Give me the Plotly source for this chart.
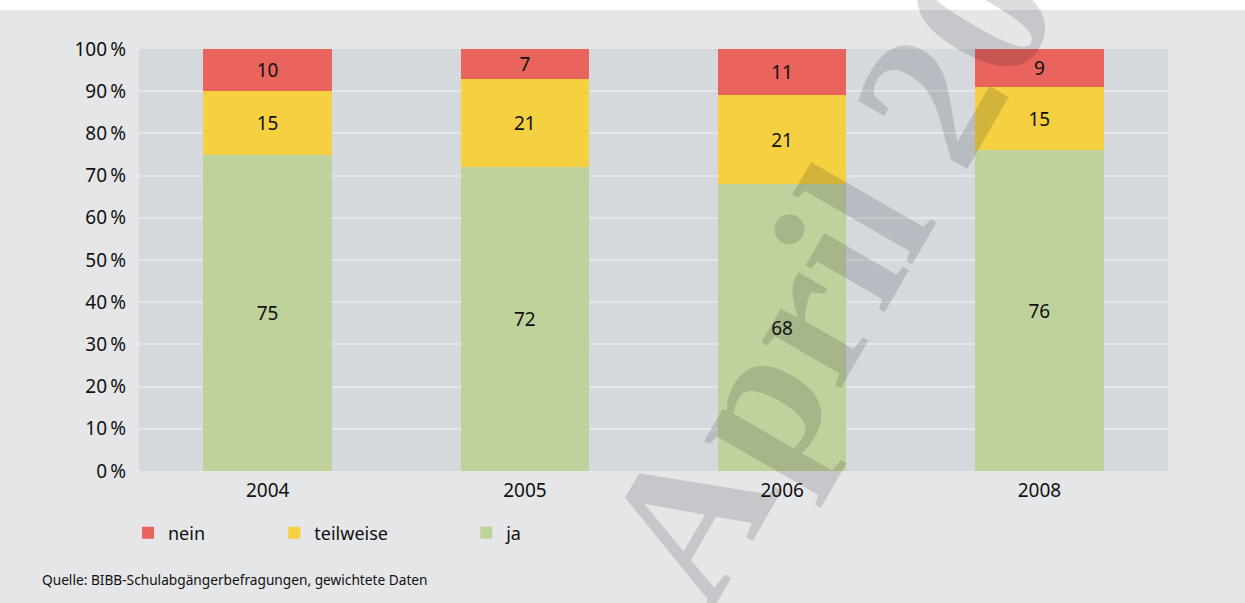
import plotly.graph_objects as go

# Daten
jahre = ['2004', '2005', '2006', '2008']
ja = [75, 72, 68, 76]
teilweise = [15, 21, 21, 15]
nein = [10, 7, 11, 9]

serien = [
    ('ja', ja, '#c0d29b', 'legend3'),
    ('teilweise', teilweise, '#f5d040', 'legend2'),
    ('nein', nein, '#e8645c', 'legend'),
]

schrift = 'Noto Sans, Open Sans, sans-serif'

fig = go.Figure()
for name, werte, farbe, leg in serien:
    fig.add_trace(go.Bar(
        x=jahre, y=werte, name=name,
        marker=dict(color=farbe, line_width=0),
        text=werte, textposition='inside', insidetextanchor='middle',
        textangle=0, constraintext='none',
        textfont=dict(family=schrift, size=19, color='#111111'),
        legend=leg, showlegend=True, hoverinfo='name+y',
    ))

leg_style = dict(orientation='h', yanchor='middle', y=-0.147, xanchor='left',
                 bgcolor='rgba(0,0,0,0)', font=dict(family=schrift, size=18, color='#111111'))

fig.update_layout(
    width=1245, height=603,
    barmode='stack', bargap=0.5, showlegend=True,
    paper_bgcolor='#e5e6e8', plot_bgcolor='#d5d8dc',
    margin=dict(l=139, r=77, t=49, b=132),
    font=dict(family=schrift, size=19, color='#111111'),
    legend=dict(leg_style, x=-0.0107),
    legend2=dict(leg_style, x=0.1315),
    legend3=dict(leg_style, x=0.318),
    xaxis=dict(showgrid=False, showline=False, ticks='', tickfont=dict(size=19),
               ticklabelstandoff=6),
    yaxis=dict(range=[0, 100], dtick=10, ticksuffix='\u2009%', showline=False,
               gridcolor='#e5e6e8', gridwidth=2, zeroline=False, ticks='',
               tickfont=dict(size=19), ticklabelstandoff=12),
)

# weisser Streifen oben
fig.add_shape(type='rect', xref='paper', yref='paper', x0=-0.2, x1=1.2,
              y0=1 + 39 / 422, y1=1.2, fillcolor='white', line_width=0, layer='above')

fig.add_annotation(
    text='Quelle: BIBB-Schulabgängerbefragungen, gewichtete Daten',
    xref='paper', yref='paper', x=-99 / 1029, y=-0.258, xanchor='left', yanchor='middle',
    showarrow=False, font=dict(family=schrift, size=13.7, color='#111111'))

# Wasserzeichen
fig.add_annotation(
    text='<b>April 2009</b>', xref='paper', yref='paper', x=0.718, y=0.6706,
    xanchor='center', yanchor='middle',
    showarrow=False, textangle=-60,
    font=dict(family='Liberation Serif, DejaVu Serif, serif', size=200,
              color='rgba(10,15,25,0.14)'))

fig.write_html('out.html', config={'displayModeBar': False},
               post_script="document.body.style.margin='0';")
